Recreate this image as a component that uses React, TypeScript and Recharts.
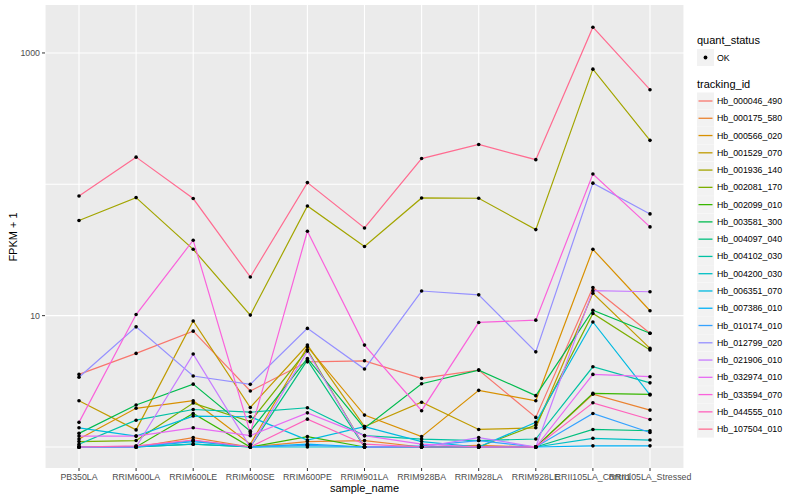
import React from "react"
import { LineChart, Line, XAxis, YAxis, CartesianGrid } from "recharts"

const samples = [
  "PB350LA",
  "RRIM600LA",
  "RRIM600LE",
  "RRIM600SE",
  "RRIM600PE",
  "RRIM901LA",
  "RRIM928BA",
  "RRIM928LA",
  "RRIM928LE",
  "RRII105LA_Control",
  "RRII105LA_Stressed",
]

// FPKM + 1 per sample
const hb_000046_490 = [3.57, 5.16, 7.62, 2.67, 4.45, 4.53, 3.33, 3.85, 1.68, 16.4, 7.34]
const hb_000175_580 = [1.0, 1.0, 1.18, 1.0, 1.1, 1.12, 1.0, 1.03, 1.0, 2.52, 1.91]
const hb_000566_020 = [1.15, 1.97, 2.25, 1.05, 5.8, 1.75, 1.2, 2.7, 2.25, 32, 10.9]
const hb_001529_070 = [2.25, 1.35, 9.1, 2.0, 5.97, 1.43, 2.19, 1.36, 1.4, 14.8, 5.63]
const hb_001936_140 = [53, 79.2, 32, 10.1, 68.4, 33.6, 78.7, 78.3, 45.2, 753, 216]
const hb_002081_170 = [1.1, 1.12, 2.16, 1.56, 5.5, 1.0, 1.0, 1.0, 1.47, 10.4, 5.47]
const hb_002099_010 = [1.0, 1.0, 1.8, 1.0, 1.2, 1.0, 1.0, 1.0, 1.0, 2.56, 2.52]
const hb_003581_300 = [1.27, 2.09, 3.01, 1.32, 4.72, 1.39, 3.03, 3.85, 2.46, 11.0, 7.34]
const hb_004097_040 = [1.0, 1.0, 1.05, 1.0, 4.59, 1.0, 1.0, 1.0, 1.0, 1.36, 1.33]
const hb_004102_030 = [1.05, 1.6, 1.93, 1.84, 1.99, 1.22, 1.15, 1.12, 1.15, 4.08, 3.08]
const hb_004200_030 = [1.0, 1.0, 1.05, 1.0, 1.0, 1.0, 1.0, 1.0, 1.0, 1.165, 1.13]
const hb_006351_070 = [1.4, 1.21, 1.72, 1.7, 1.13, 1.43, 1.1, 1.0, 1.54, 8.95, 2.49]
const hb_007386_010 = [1.0, 1.0, 1.1, 1.0, 1.05, 1.0, 1.0, 1.0, 1.0, 1.02, 1.02]
const hb_010174_010 = [1.0, 1.0, 1.12, 1.0, 1.03, 1.0, 1.02, 1.12, 1.0, 1.8, 1.29]
const hb_012799_020 = [3.4, 8.22, 3.47, 3.0, 8.0, 3.92, 15.4, 14.4, 5.3, 102, 59.5]
const hb_021906_010 = [1.0, 1.0, 5.1, 1.0, 5.37, 1.0, 1.0, 1.18, 1.0, 15.5, 15.2]
const hb_032974_010 = [1.21, 1.21, 1.4, 1.22, 1.82, 1.22, 1.05, 1.0, 1.0, 3.57, 3.43]
const hb_033594_070 = [1.54, 10.2, 37.5, 1.28, 43.9, 5.97, 1.89, 8.88, 9.24, 119.8, 47.4]
const hb_044555_010 = [1.0, 1.02, 1.13, 1.0, 1.63, 1.05, 1.0, 1.0, 1.0, 2.17, 1.62]
const hb_107504_010 = [81.5, 161, 77.9, 19.7, 103, 46.5, 157, 201, 154, 1571, 525]

const trackingIds = [
  "Hb_000046_490",
  "Hb_000175_580",
  "Hb_000566_020",
  "Hb_001529_070",
  "Hb_001936_140",
  "Hb_002081_170",
  "Hb_002099_010",
  "Hb_003581_300",
  "Hb_004097_040",
  "Hb_004102_030",
  "Hb_004200_030",
  "Hb_006351_070",
  "Hb_007386_010",
  "Hb_010174_010",
  "Hb_012799_020",
  "Hb_021906_010",
  "Hb_032974_010",
  "Hb_033594_070",
  "Hb_044555_010",
  "Hb_107504_010",
]

const seriesValues = [
  hb_000046_490, hb_000175_580, hb_000566_020, hb_001529_070, hb_001936_140,
  hb_002081_170, hb_002099_010, hb_003581_300, hb_004097_040, hb_004102_030,
  hb_004200_030, hb_006351_070, hb_007386_010, hb_010174_010, hb_012799_020,
  hb_021906_010, hb_032974_010, hb_033594_070, hb_044555_010, hb_107504_010,
]

// ggplot hue palette, 20 levels
const colors = [
  "#F8766D", "#EA8331", "#D89000", "#C09B00", "#A3A500",
  "#7CAE00", "#39B600", "#00BB4E", "#00BF7D", "#00C1A3",
  "#00BFC4", "#00BAE0", "#00B0F6", "#35A2FF", "#9590FF",
  "#C77CFF", "#E76BF3", "#FA62DB", "#FF62BC", "#FF6C91",
]

const yTicks = [10, 1000]
const yGrid = [1, 10, 100, 1000]

const data = samples.map((s, i) => {
  const row: Record<string, string | number> = { sample: s }
  trackingIds.forEach((id, j) => {
    row[id] = seriesValues[j][i]
  })
  return row
})

const font = "'Liberation Sans', Arial, Helvetica, sans-serif"

const YTitle = () => (
  <text transform="translate(13,237) rotate(-90)" textAnchor="middle" dominantBaseline="central" fontSize={11} fill="#000" fontFamily={font}>
    FPKM + 1
  </text>
)

const XTitle = () => (
  <text x={364.5} y={492} textAnchor="middle" fontSize={11} fill="#000" fontFamily={font}>
    sample_name
  </text>
)

// legend drawn as plain svg at the right of the panel
const LegendBox = () => (
  <svg width={110} height={460} style={{ position: "absolute", left: 690, top: 0 }} fontFamily={font}>
    <text x={7} y={44} fontSize={11} fill="#000">quant_status</text>
    <rect x={7} y={49} width={17} height={17} fill="#F2F2F2" />
    <circle cx={15.5} cy={57.5} r={1.9} fill="#000" />
    <text x={27} y={60.5} fontSize={8.8} fill="#000">OK</text>
    <text x={7} y={88} fontSize={11} fill="#000">tracking_id</text>
    {trackingIds.map((id, i) => {
      const cy = 101 + i * 17.27
      return (
        <g key={id}>
          <rect x={7} y={cy - 8.5} width={17} height={17} fill="#F2F2F2" />
          <line x1={8.5} x2={22.5} y1={cy} y2={cy} stroke={colors[i]} strokeWidth={1.3} />
          <text x={27} y={cy + 3} fontSize={8.8} fill="#000">{id}</text>
        </g>
      )
    })}
  </svg>
)

export default function App() {
  return (
    <div style={{ position: "absolute", left: 0, top: 0, width: 800, height: 500, background: "#fff" }}>
      <LineChart width={800} height={500} data={data} margin={{ top: 5, right: 116, bottom: 0, left: 0 }}>
        <CartesianGrid fill="#EBEBEB" fillOpacity={1} stroke="#FFFFFF" strokeWidth={1.1} horizontalValues={yGrid} />
        <XAxis
          dataKey="sample"
          interval={0}
          height={32}
          padding={{ left: 34, right: 34 }}
          axisLine={false}
          tickLine={{ stroke: "#333333" }}
          tickSize={3}
          tickMargin={3}
          tick={{ fontSize: 8.8, fill: "#4D4D4D", fontFamily: font }}
          label={{ content: () => <XTitle /> }}
        />
        <YAxis
          type="number"
          scale="log"
          domain={[0.692, 2318]}
          allowDataOverflow
          ticks={yTicks}
          width={45}
          axisLine={false}
          tickLine={{ stroke: "#333333" }}
          tickSize={3}
          tickMargin={2}
          tick={{ fontSize: 8.8, fill: "#4D4D4D", fontFamily: font }}
          label={{ content: () => <YTitle /> }}
        />
        {trackingIds.map((id, i) => (
          <Line
            key={id}
            type="linear"
            dataKey={id}
            stroke={colors[i]}
            strokeWidth={1.2}
            dot={false}
            activeDot={false}
            isAnimationActive={false}
          />
        ))}
        {trackingIds.map((id) => (
          <Line
            key={id + "_pt"}
            type="linear"
            dataKey={id}
            stroke="none"
            dot={{ r: 1.8, fill: "#000", stroke: "none" }}
            activeDot={false}
            legendType="none"
            isAnimationActive={false}
          />
        ))}
      </LineChart>
      <LegendBox />
    </div>
  )
}
